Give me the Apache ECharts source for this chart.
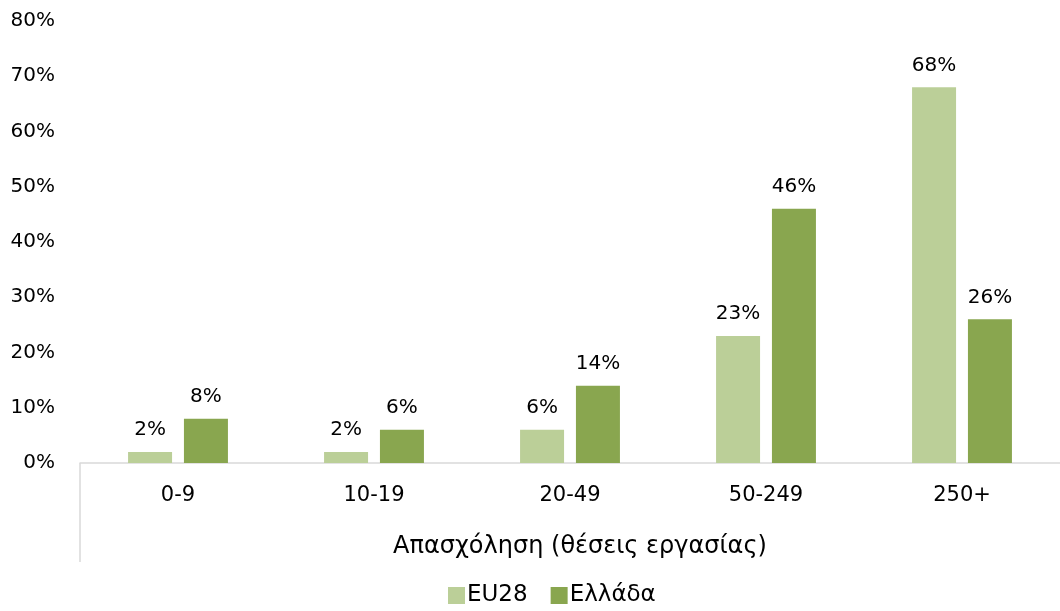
<!DOCTYPE html>
<html>
<head>
<meta charset="utf-8">
<script src="https://cdn.jsdelivr.net/npm/echarts@6/dist/echarts.min.js"></script>
<style>
  html, body { margin: 0; padding: 0; background: #fff; }
  #chart { width: 1060px; height: 611px; }
</style>
</head>
<body>
<div id="chart"></div>
<script>
// Firm-size bands (employment) and shares per band
const categories = ['0-9', '10-19', '20-49', '50-249', '250+'];
const eu28 = [2, 2, 6, 23, 68];
const ellada = [8, 6, 14, 46, 26];
const yTicks = [0, 10, 20, 30, 40, 50, 60, 70, 80];

const FONT = '"DejaVu Sans", "Liberation Sans", sans-serif';
const TXT = '#000';
const GRID = { left: 80, right: 0, top: 21, bottom: 148 };

const chart = echarts.init(document.getElementById('chart'), null, { renderer: 'canvas' });

const labelStyle = {
  show: true,
  position: 'top',
  distance: 12,
  formatter: p => p.value + '%',
  color: TXT,
  fontFamily: FONT,
  fontSize: 20
};

chart.setOption({
  animation: false,
  textStyle: { fontFamily: FONT },
  grid: Object.assign({ containLabel: false }, GRID),
  legend: {
    bottom: 4,
    padding: 0,
    left: 448,
    itemWidth: 17,
    itemHeight: 17,
    itemGap: 23,
    icon: 'rect',
    textStyle: { color: TXT, fontFamily: FONT, fontSize: 23, padding: [0, 0, 0, -3] },
    data: ['EU28', 'Ελλάδα']
  },
  xAxis: {
    type: 'category',
    data: categories,
    name: 'Απασχόληση (θέσεις εργασίας)',
    nameLocation: 'middle',
    nameGap: 72,
    nameTextStyle: { color: TXT, fontFamily: FONT, fontSize: 24, padding: [0, 0, 0, 20] },
    axisLine: { show: true, lineStyle: { color: '#d9d9d9', width: 1.5 } },
    axisTick: { show: false },
    axisLabel: { color: TXT, fontFamily: FONT, fontSize: 21, margin: 22 },
    splitLine: { show: false }
  },
  yAxis: {
    type: 'value',
    min: yTicks[0],
    max: yTicks[yTicks.length - 1],
    interval: yTicks[1] - yTicks[0],
    axisLine: { show: false },
    axisTick: { show: false },
    splitLine: { show: false },
    axisLabel: {
      color: TXT, fontFamily: FONT, fontSize: 20, margin: 25,
      formatter: v => v + '%'
    }
  },
  series: [
    {
      name: 'EU28',
      type: 'bar',
      data: eu28,
      barWidth: 44,
      barGap: '27%',
      itemStyle: { color: '#bbcf98' },
      label: labelStyle
    },
    {
      name: 'Ελλάδα',
      type: 'bar',
      data: ellada,
      barWidth: 44,
      itemStyle: { color: '#89a64f' },
      label: labelStyle
    }
  ]
});

// Left border of the category label band, running down from the axis baseline
const base = chart.convertToPixel({ yAxisIndex: 0 }, 0);
chart.setOption({
  graphic: [{
    type: 'line',
    silent: true,
    shape: { x1: GRID.left, y1: base, x2: GRID.left, y2: base + 99 },
    style: { stroke: '#d9d9d9', lineWidth: 1.5 }
  }]
});
</script>
</body>
</html>
